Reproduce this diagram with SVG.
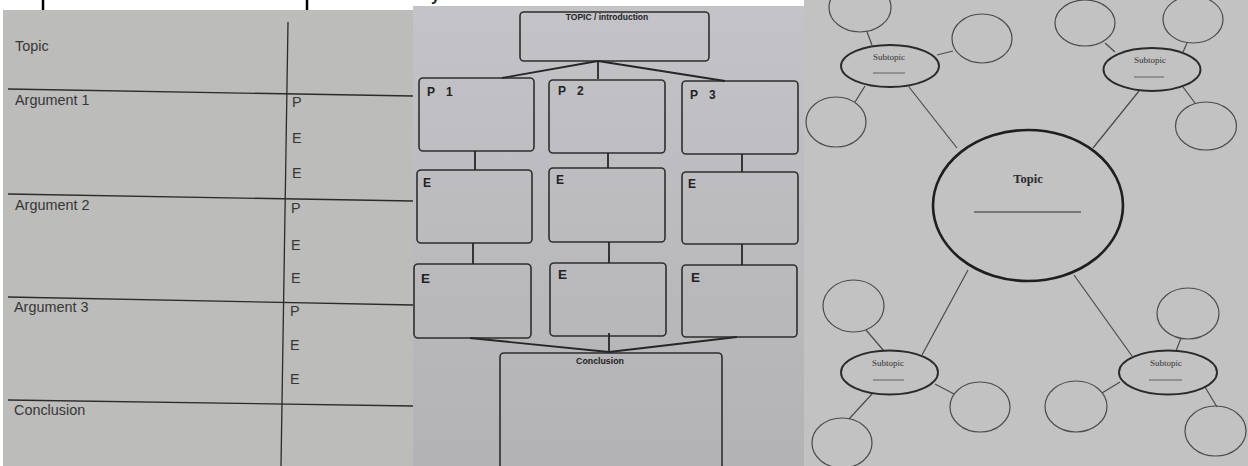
<svg xmlns="http://www.w3.org/2000/svg" width="1248" height="466" viewBox="0 0 1248 466">
<defs>
<style>
.p1line{stroke:#2b2b2b;stroke-width:1.3;fill:none}
.t1{font-family:"Liberation Sans",Arial,sans-serif;font-size:14.4px;fill:#363636}
.box{fill:none;stroke:#2e2e2e;stroke-width:1.6}
.con{stroke:#262626;stroke-width:1.8;fill:none}
.lb{font-family:"Liberation Sans",Arial,sans-serif;font-weight:bold;fill:#222}
.small{fill:none;stroke:#4a4a4a;stroke-width:1.2}
.sub{fill:none;stroke:#2a2a2a;stroke-width:1.9}
.topic{fill:none;stroke:#1e1e1e;stroke-width:2.6}
.link{stroke:#4a4a4a;stroke-width:1.2;fill:none}
.ul{stroke:#555;stroke-width:0.9}
.st{font-family:"Liberation Serif","Times New Roman",serif;font-size:9px;fill:#333;text-anchor:middle}
</style>
<linearGradient id="g2" x1="0" y1="0" x2="0" y2="1">
<stop offset="0" stop-color="#c3c3c8"/>
<stop offset="1" stop-color="#b3b3b5"/>
</linearGradient>
</defs>
<rect x="0" y="0" width="1248" height="466" fill="#ffffff"/>

<!-- Panel 1: table worksheet -->
<g id="panel1">
<rect x="3" y="10" width="410" height="456" fill="#bcbcba"/>
<line x1="43" y1="0" x2="43" y2="10" stroke="#000" stroke-width="2.5"/>
<line x1="307" y1="0" x2="307" y2="10" stroke="#000" stroke-width="2.5"/>
<line class="p1line" x1="288" y1="22" x2="281" y2="466"/>
<line class="p1line" x1="8" y1="89" x2="413" y2="96"/>
<line class="p1line" x1="8" y1="194" x2="413" y2="201"/>
<line class="p1line" x1="8" y1="297" x2="413" y2="305"/>
<line class="p1line" x1="8" y1="400" x2="413" y2="406"/>
<text class="t1" x="15" y="51">Topic</text>
<text class="t1" x="15" y="105">Argument 1</text>
<text class="t1" x="15" y="210">Argument 2</text>
<text class="t1" x="14" y="312">Argument 3</text>
<text class="t1" x="14" y="415">Conclusion</text>
<text class="t1" x="292" y="107">P</text>
<text class="t1" x="292" y="143">E</text>
<text class="t1" x="292" y="178">E</text>
<text class="t1" x="291" y="213">P</text>
<text class="t1" x="291" y="250">E</text>
<text class="t1" x="291" y="283">E</text>
<text class="t1" x="290" y="316">P</text>
<text class="t1" x="290" y="350">E</text>
<text class="t1" x="290" y="384">E</text>
</g>

<!-- Panel 2: flow chart worksheet -->
<g id="panel2">
<rect x="413" y="6" width="392" height="460" fill="url(#g2)"/>
<text class="lb" x="431" y="1" font-size="16">y</text>
</g>
<g id="topic-intro">
<rect class="box" x="520" y="12" width="189" height="49" rx="4"/>
<text class="lb" x="607" y="20" font-size="8.5" text-anchor="middle">TOPIC / introduction</text>
</g>
<g id="p1">
<rect class="box" x="419" y="78" width="115" height="73" rx="4"/>
<text class="lb" x="427" y="96" font-size="12" word-spacing="8">P 1</text>
</g>
<g id="p2">
<rect class="box" x="549" y="80" width="116" height="73" rx="4"/>
<text class="lb" x="558" y="95" font-size="12" word-spacing="8">P 2</text>
</g>
<g id="p3">
<rect class="box" x="682" y="81" width="116" height="73" rx="4"/>
<text class="lb" x="690" y="99" font-size="12" word-spacing="8">P 3</text>
</g>
<g id="e1a">
<rect class="box" x="417" y="170" width="115" height="73" rx="4"/>
<text class="lb" x="423" y="187" font-size="12">E</text>
</g>
<g id="e2a">
<rect class="box" x="549" y="168" width="116" height="74" rx="4"/>
<text class="lb" x="556" y="184" font-size="12">E</text>
</g>
<g id="e3a">
<rect class="box" x="682" y="172" width="116" height="72" rx="4"/>
<text class="lb" x="688" y="188" font-size="12">E</text>
</g>
<g id="e1b">
<rect class="box" x="414" y="264" width="117" height="74" rx="4"/>
<text class="lb" x="421" y="283" font-size="13.5">E</text>
</g>
<g id="e2b">
<rect class="box" x="550" y="263" width="116" height="73" rx="4"/>
<text class="lb" x="558" y="279" font-size="13.5">E</text>
</g>
<g id="e3b">
<rect class="box" x="682" y="265" width="115" height="72" rx="4"/>
<text class="lb" x="691" y="282" font-size="13.5">E</text>
</g>
<g id="conclusion-box">
<rect class="box" x="500" y="353" width="222" height="130" rx="4"/>
<text class="lb" x="600" y="364" font-size="8.8" text-anchor="middle">Conclusion</text>
</g>

<!-- Panel 3: mind map worksheet -->
<g id="panel3">
<rect x="804" y="0" width="444" height="466" fill="#c2c2c3"/>
</g>

<g id="connectors">
<line class="con" x1="598" y1="61" x2="502" y2="78"/>
<line class="con" x1="598" y1="61" x2="598" y2="79"/>
<line class="con" x1="598" y1="61" x2="725" y2="81"/>
<line class="con" x1="475" y1="151" x2="475" y2="170"/>
<line class="con" x1="608" y1="153" x2="608" y2="168"/>
<line class="con" x1="742" y1="154" x2="742" y2="172"/>
<line class="con" x1="473" y1="243" x2="473" y2="264"/>
<line class="con" x1="609" y1="242" x2="609" y2="263"/>
<line class="con" x1="742" y1="244" x2="742" y2="265"/>
<line class="con" x1="609" y1="333" x2="609" y2="352"/>
<line class="con" x1="470" y1="338" x2="609" y2="352" stroke-width="2.2"/>
<line class="con" x1="737" y1="337" x2="609" y2="352" stroke-width="2.2"/>
<line class="link" x1="909" y1="87" x2="957" y2="148"/>
<line class="link" x1="1139" y1="91" x2="1093" y2="148"/>
<line class="link" x1="922" y1="355" x2="968" y2="270"/>
<line class="link" x1="1132" y1="356" x2="1074" y2="275"/>
<line class="link" x1="867" y1="32" x2="872" y2="45"/>
<line class="link" x1="937" y1="55" x2="953" y2="51"/>
<line class="link" x1="865" y1="86" x2="855" y2="102"/>
<line class="link" x1="1105" y1="43" x2="1115" y2="52"/>
<line class="link" x1="1187" y1="43" x2="1183" y2="52"/>
<line class="link" x1="1183" y1="87" x2="1195" y2="103"/>
<line class="link" x1="866" y1="330" x2="884" y2="351"/>
<line class="link" x1="935" y1="384" x2="954" y2="394"/>
<line class="link" x1="872" y1="394" x2="849" y2="419"/>
<line class="link" x1="1181" y1="338" x2="1176" y2="351"/>
<line class="link" x1="1102" y1="393" x2="1120" y2="382"/>
<line class="link" x1="1205" y1="387" x2="1217" y2="407"/>
</g>

<g id="topic">
<ellipse class="topic" cx="1028" cy="205.5" rx="95" ry="75.5"/>
<text x="1028" y="183" font-family="'Liberation Serif','Times New Roman',serif" font-weight="bold" font-size="12.5" fill="#2a2a2a" text-anchor="middle">Topic</text>
<line x1="974" y1="212" x2="1081" y2="212" stroke="#333" stroke-width="1.1"/>
</g>
<g id="subtopic-tl">
<ellipse class="sub" cx="890" cy="66" rx="49" ry="21"/>
<text class="st" x="889" y="60">Subtopic</text>
<line class="ul" x1="873" y1="73" x2="905" y2="73"/>
</g>
<g id="subtopic-tr">
<ellipse class="sub" cx="1152" cy="69.5" rx="48.5" ry="21.5"/>
<text class="st" x="1150" y="63">Subtopic</text>
<line class="ul" x1="1134" y1="77" x2="1164" y2="77"/>
</g>
<g id="subtopic-bl">
<ellipse class="sub" cx="889.5" cy="372.5" rx="48.5" ry="22"/>
<text class="st" x="888" y="366">Subtopic</text>
<line class="ul" x1="873" y1="380" x2="904" y2="380"/>
</g>
<g id="subtopic-br">
<ellipse class="sub" cx="1168" cy="372.5" rx="49" ry="22"/>
<text class="st" x="1166" y="366">Subtopic</text>
<line class="ul" x1="1149" y1="380" x2="1182" y2="380"/>
</g>
<g id="circle-tl1"><ellipse class="small" cx="860" cy="7.5" rx="31" ry="24.5"/></g>
<g id="circle-tl2"><ellipse class="small" cx="982" cy="38.5" rx="30" ry="24.5"/></g>
<g id="circle-tl3"><ellipse class="small" cx="836" cy="122" rx="30" ry="25"/></g>
<g id="circle-tr1"><ellipse class="small" cx="1085" cy="23" rx="30" ry="23"/></g>
<g id="circle-tr2"><ellipse class="small" cx="1193" cy="19.5" rx="30" ry="23.5"/></g>
<g id="circle-tr3"><ellipse class="small" cx="1206" cy="126" rx="30.5" ry="24"/></g>
<g id="circle-bl1"><ellipse class="small" cx="853.5" cy="306" rx="30.5" ry="26"/></g>
<g id="circle-bl2"><ellipse class="small" cx="980" cy="407" rx="30" ry="25"/></g>
<g id="circle-bl3"><ellipse class="small" cx="842" cy="443" rx="30" ry="25"/></g>
<g id="circle-br1"><ellipse class="small" cx="1188" cy="313.5" rx="31" ry="25.5"/></g>
<g id="circle-br2"><ellipse class="small" cx="1076" cy="406.5" rx="31" ry="25.5"/></g>
<g id="circle-br3"><ellipse class="small" cx="1215.5" cy="431" rx="30.5" ry="25"/></g>
</svg>
